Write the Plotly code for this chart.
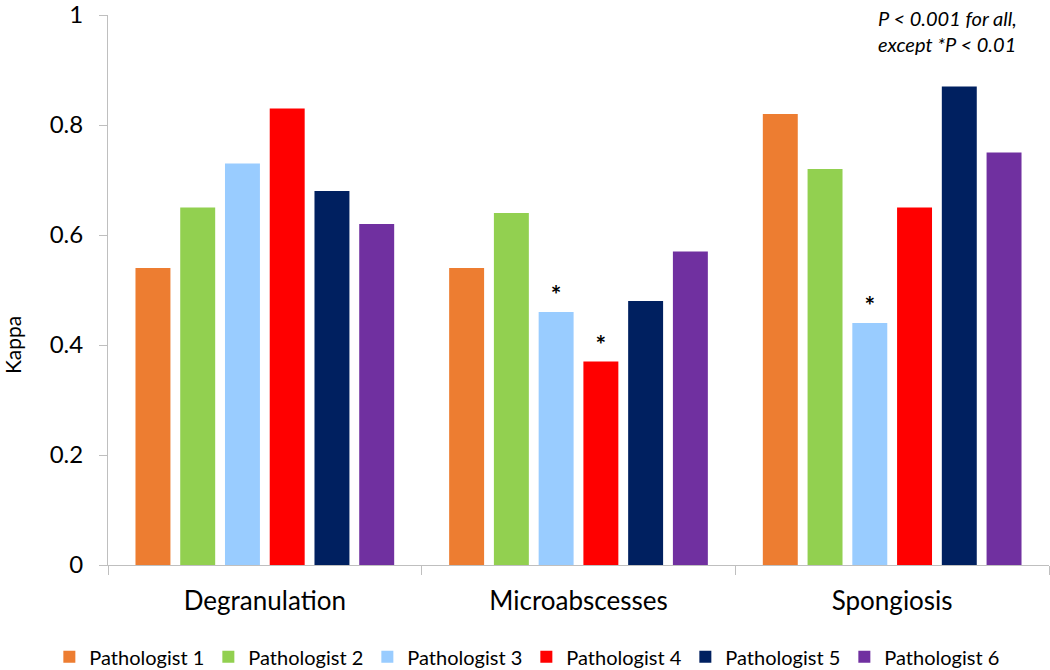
import plotly.graph_objects as go

categories = ["Degranulation", "Microabscesses", "Spongiosis"]
pathologists = ["Pathologist 1", "Pathologist 2", "Pathologist 3",
                "Pathologist 4", "Pathologist 5", "Pathologist 6"]
colors = ["#ED7D31", "#92D050", "#99CCFF", "#FF0000", "#002060", "#7030A0"]
kappa = [
    [0.54, 0.54, 0.82],
    [0.65, 0.64, 0.72],
    [0.73, 0.46, 0.44],
    [0.83, 0.37, 0.65],
    [0.68, 0.48, 0.87],
    [0.62, 0.57, 0.75],
]
marks = [
    ["", "", ""],
    ["", "", ""],
    ["", "*", "*"],
    ["", "*", ""],
    ["", "", ""],
    ["", "", ""],
]
y_ticks = [0, 0.2, 0.4, 0.6, 0.8, 1]
y_tick_labels = ["0", "0.2", "0.4", "0.6", "0.8", "1"]
y_title = "Kappa"
note_lines = ["P < 0.001 for all,", "except *P < 0.01"]

FONT = "Lato"
fig = go.Figure()
for i, (name, col, vals, mk) in enumerate(zip(pathologists, colors, kappa, marks)):
    fig.add_trace(go.Bar(
        x=categories, y=vals, name=name, marker_color=col,
        marker_line_width=0,
        text=mk, textposition="outside",
        textfont=dict(size=25, color="black", family=FONT, weight="bold"),
        cliponaxis=False,
        legend="legend" if i < 3 else "legend2",
    ))

legend_common = dict(orientation="h", xanchor="left", xref="container",
                     y=-0.167, yanchor="middle", yref="paper",
                     font=dict(size=20, family=FONT),
                     entrywidth=114, entrywidthmode="pixels",
                     itemwidth=30, traceorder="normal")

fig.update_layout(
    width=1050, height=670,
    paper_bgcolor="white", plot_bgcolor="white",
    margin=dict(l=108, r=1, t=15, b=105, autoexpand=False),
    barmode="group", bargap=0.144, bargroupgap=0.219,
    font=dict(family=FONT, color="black"),
    showlegend=True,
    legend=dict(x=0.047, **legend_common),
    legend2=dict(x=0.047 + 477 / 1050, **legend_common),
    uniformtext=dict(minsize=10, mode="show"),
)
fig.update_xaxes(
    showline=True, linecolor="#BFBFBF", linewidth=1,
    ticks="outside", tickson="boundaries", ticklen=9, tickcolor="#BFBFBF",
    tickfont=dict(size=26, family=FONT), ticklabelstandoff=13,
    showgrid=False, zeroline=False, automargin=False,
)
fig.update_yaxes(
    range=[0, 1], tickvals=y_ticks, ticktext=y_tick_labels,
    showline=True, linecolor="#BFBFBF", linewidth=1,
    ticks="outside", ticklen=8, tickcolor="#BFBFBF",
    tickfont=dict(size=24, family=FONT), ticklabelstandoff=11,
    ticklabeloverflow="allow",
    showgrid=False, zeroline=False, automargin=False,
)
fig.add_annotation(
    text=y_title, textangle=-90,
    xref="paper", yref="paper", x=-0.102, y=0.4,
    xanchor="center", yanchor="middle", showarrow=False,
    font=dict(size=21, family=FONT, color="black"),
)
fig.add_annotation(
    text="<br>".join("<i>" + s + "</i>" for s in note_lines),
    xref="paper", yref="paper", x=0.816, y=1.02,
    xanchor="left", yanchor="top", showarrow=False, align="left",
    font=dict(size=20, family=FONT, color="black"),
)

fig.write_html(
    "out.html",
    config={"displayModeBar": False},
    post_script="document.body.style.margin='0';document.body.style.overflow='hidden';",
)
